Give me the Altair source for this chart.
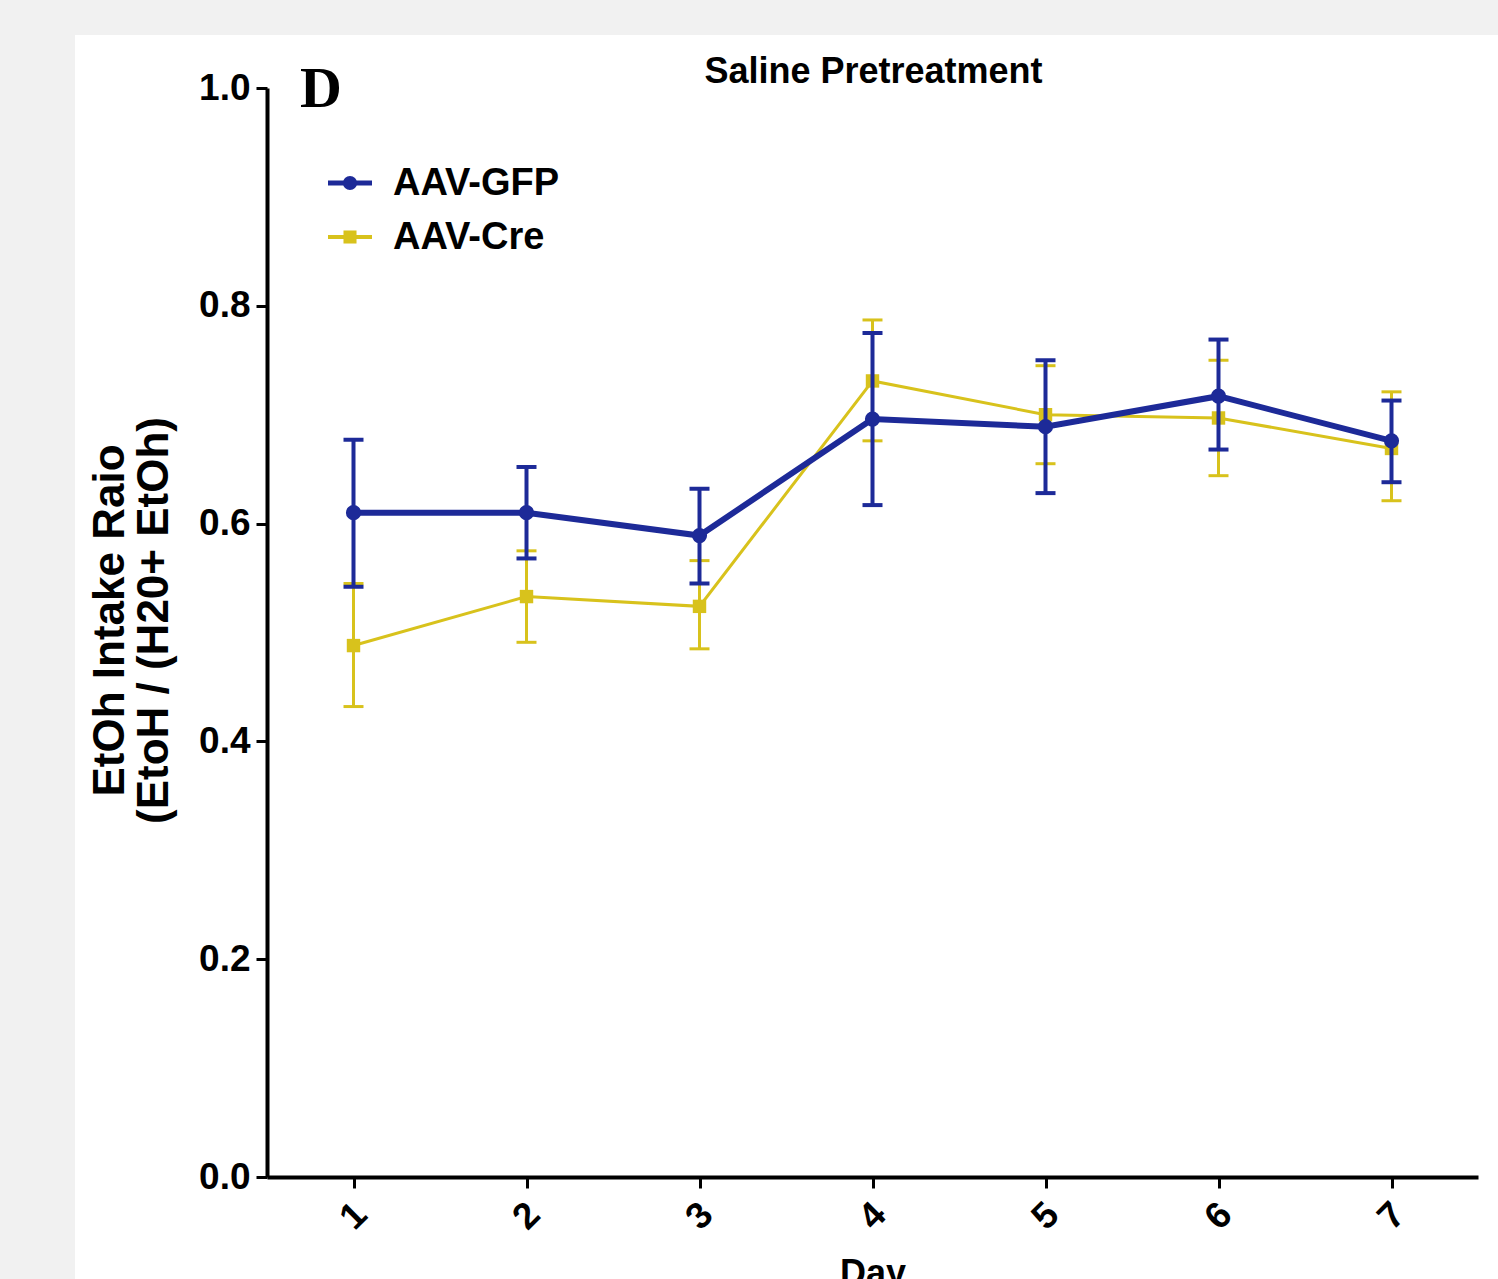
import altair as alt
import pandas as pd

days = [1, 2, 3, 4, 5, 6, 7]
series = ["AAV-GFP", "AAV-Cre"]
colors = ["#1d2a98", "#d8c21c"]

gfp_mean = [0.610, 0.610, 0.589, 0.696, 0.689, 0.717, 0.676]
gfp_hi = [0.677, 0.652, 0.632, 0.775, 0.750, 0.769, 0.713]
gfp_lo = [0.542, 0.568, 0.545, 0.617, 0.628, 0.668, 0.638]

cre_mean = [0.488, 0.533, 0.524, 0.731, 0.700, 0.697, 0.669]
cre_hi = [0.545, 0.575, 0.566, 0.787, 0.745, 0.750, 0.721]
cre_lo = [0.432, 0.491, 0.485, 0.676, 0.655, 0.644, 0.621]

y_ticks = [0.0, 0.2, 0.4, 0.6, 0.8, 1.0]
title_text = "Saline Pretreatment"
panel_letter = "D"

FONT = "Liberation Sans"
W, H = 1211, 1089
PAD_L, PAD_T = 267, 88
GRAY = "#f1f1f1"

def frame(mean, lo, hi, name):
    return pd.DataFrame({"day": days, "mean": mean, "lo": lo, "hi": hi, "series": name})

df_gfp = frame(gfp_mean, gfp_lo, gfp_hi, series[0])
df_cre = frame(cre_mean, cre_lo, cre_hi, series[1])

xscale = alt.Scale(domain=[0.5, 7.5], nice=False, zero=False)
yscale = alt.Scale(domain=[0, 1], nice=False)

x_enc = alt.X("day:Q", scale=xscale,
              axis=alt.Axis(values=days, format="d", title="Day", labelAngle=-45,
                            labelAlign="center", labelBaseline="middle", labelPadding=28,
                            titleY=79, titleBaseline="top", titleFontSize=36))
y_enc = alt.Y("mean:Q", scale=yscale,
              axis=alt.Axis(values=y_ticks, format=".1f",
                            title=["EtOh Intake Raio", "(EtoH / (H20+ EtOh)"],
                            titleFontSize=44, titleLineHeight=44, titleX=-157, titleY=532,
                            titleBaseline="middle", titleAngle=270, labelPadding=6))


def series_layers(df, color, line_w, bar_w, shape, size):
    base = alt.Chart(df)
    line = base.mark_line(color=color, strokeWidth=line_w).encode(x=x_enc, y=y_enc)
    rule = base.mark_rule(color=color, strokeWidth=bar_w).encode(
        x="day:Q", y="lo:Q", y2="hi:Q")
    cap_hi = base.mark_tick(color=color, orient="horizontal", size=20, thickness=bar_w,
                            opacity=1).encode(x="day:Q", y="hi:Q")
    cap_lo = base.mark_tick(color=color, orient="horizontal", size=20, thickness=bar_w,
                            opacity=1).encode(x="day:Q", y="lo:Q")
    pts = base.mark_point(color=color, filled=True, opacity=1, shape=shape, size=size).encode(
        x="day:Q", y="mean:Q")
    return [line, rule, cap_hi, cap_lo, pts]


# gray page margins (left and top strips)
one = pd.DataFrame({"a": [0]})
strip_left = alt.Chart(one).mark_rect(color=GRAY).encode(
    x=alt.value(-PAD_L - 5), x2=alt.value(75 - PAD_L),
    y=alt.value(-PAD_T - 5), y2=alt.value(1279 - PAD_T + 5))
strip_top = alt.Chart(one).mark_rect(color=GRAY).encode(
    x=alt.value(-PAD_L - 5), x2=alt.value(1498 - PAD_L + 5),
    y=alt.value(-PAD_T - 5), y2=alt.value(35 - PAD_T))

# panel letter and title
letter = alt.Chart(pd.DataFrame({"t": [panel_letter]})).mark_text(
    font="Liberation Serif", fontWeight="bold", fontSize=58, align="left",
    baseline="alphabetic", color="black").encode(
    text="t:N", x=alt.value(33), y=alt.value(19))

title = alt.Chart(pd.DataFrame({"t": [title_text]})).mark_text(
    font=FONT, fontWeight="bold", fontSize=36, align="center",
    baseline="alphabetic", color="black").encode(
    text="t:N", x=alt.value(873.5 - PAD_L), y=alt.value(83 - PAD_T))

# legend
leg_layers = []
leg_rows = [(series[0], colors[0], 5, "circle", 200, 95),
            (series[1], colors[1], 4, "square", 170, 149)]
for name, col, lw, shp, sz, yy in leg_rows:
    d = pd.DataFrame({"s": [name]})
    b = alt.Chart(d)
    leg_layers.append(b.mark_rule(color=col, strokeWidth=lw).encode(
        x=alt.value(61), x2=alt.value(105), y=alt.value(yy)))
    leg_layers.append(b.mark_point(color=col, filled=True, opacity=1, shape=shp, size=sz).encode(
        x=alt.value(83), y=alt.value(yy)))
    leg_layers.append(b.mark_text(font=FONT, fontWeight="bold", fontSize=38, align="left",
                                  baseline="middle", color="black").encode(
        text="s:N", x=alt.value(126), y=alt.value(yy + 1)))

layers = []
layers += series_layers(df_cre, colors[1], 3, 3, "square", 180)
layers += series_layers(df_gfp, colors[0], 6, 4, "circle", 230)
layers += [strip_left, strip_top, letter, title] + leg_layers

chart = alt.layer(*layers).properties(
    width=W, height=H,
    autosize=alt.AutoSizeParams(type="none"),
    padding={"left": PAD_L, "top": PAD_T, "right": 20, "bottom": 102},
    background="white",
).configure_view(stroke=None).configure_axis(
    grid=False, domainColor="black", domainWidth=4, tickColor="black", tickWidth=3,
    tickSize=11, labelFont=FONT, labelFontSize=37, labelFontWeight="bold", labelColor="black",
    titleFont=FONT, titleFontWeight="bold", titleColor="black"
)

chart.save("out.html", embed_options={"renderer": "svg", "actions": False})
